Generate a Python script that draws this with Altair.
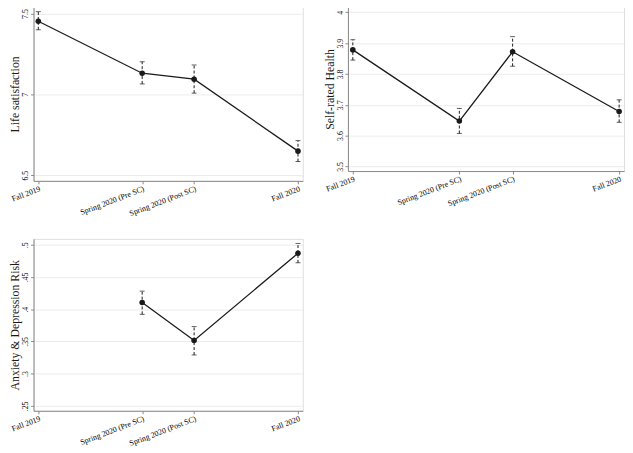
import altair as alt
import pandas as pd

periods = ["Fall 2019", "Spring 2020 (Pre SC)", "Spring 2020 (Post SC)", "Fall 2020"]
period_pos = [0.0, 4.8, 7.2, 12.0]

life_mean = [7.453, 7.131, 7.094, 6.649]
life_lo = [7.400, 7.065, 7.008, 6.585]
life_hi = [7.512, 7.202, 7.182, 6.714]

health_mean = [3.878, 3.647, 3.872, 3.678]
health_lo = [3.845, 3.607, 3.825, 3.643]
health_hi = [3.911, 3.688, 3.921, 3.716]

anx_mean = [None, 0.4105, 0.3515, 0.4867]
anx_lo = [None, 0.392, 0.329, 0.472]
anx_hi = [None, 0.428, 0.373, 0.502]

life_ticks = [6.5, 7.0, 7.5]
health_ticks = [3.5, 3.6, 3.7, 3.8, 3.9, 4.0]
anx_ticks = [0.25, 0.3, 0.35, 0.4, 0.45, 0.5]

FONT = "Liberation Serif"
FRAME = "#8c8c8c"
INK = "#1a1a1a"

label_expr = " : ".join(
    f"datum.value == {p} ? '{l}'" for p, l in zip(period_pos, periods)
) + " : ''"


def panel(mean, lo, hi, title, ydomain, yticks, w, h):
    df = pd.DataFrame({"pos": period_pos, "mean": mean, "lo": lo, "hi": hi}).dropna()
    xscale = alt.Scale(domain=[-0.22, 12.22], nice=False, zero=False)
    xaxis = alt.Axis(
        values=period_pos, labelExpr=label_expr, labelAngle=339,
        labelAlign="right", labelBaseline="top", labelFontSize=8,
        labelPadding=1, tickSize=3, grid=False, title=None,
        labelFlush=False, labelOverlap=False, labelFont=FONT,
    )
    yscale = alt.Scale(domain=ydomain, nice=False, zero=False)
    yaxis = alt.Axis(
        values=yticks, format="~g",
        labelExpr="replace(datum.label, '0.', '.')",
        labelAngle=270, labelAlign="center", labelBaseline="bottom",
        labelFontSize=8, labelPadding=1, tickSize=3, labelFont=FONT,
        grid=True, gridColor="#ececec", gridWidth=1,
        title=title, titleFont=FONT, titleFontSize=12, titleFontWeight="normal",
        titleColor=INK, titlePadding=0, labelFlush=False, labelOverlap=False,
    )
    x = alt.X("pos:Q", scale=xscale, axis=xaxis)
    base = alt.Chart(df)
    rule = base.mark_rule(color=INK, strokeDash=[3, 2], strokeWidth=1).encode(
        x=x, y=alt.Y("lo:Q", scale=yscale, axis=yaxis), y2="hi:Q"
    )
    cap_lo = base.mark_tick(orient="horizontal", size=5, thickness=1, color=INK).encode(
        x=x, y=alt.Y("lo:Q", scale=yscale, axis=yaxis)
    )
    cap_hi = base.mark_tick(orient="horizontal", size=5, thickness=1, color=INK).encode(
        x=x, y=alt.Y("hi:Q", scale=yscale, axis=yaxis)
    )
    line = base.mark_line(color=INK, strokeWidth=1.3).encode(
        x=x, y=alt.Y("mean:Q", scale=yscale, axis=yaxis)
    )
    pts = base.mark_circle(color=INK, size=32, opacity=1).encode(
        x=x, y=alt.Y("mean:Q", scale=yscale, axis=yaxis)
    )
    return alt.layer(rule, cap_lo, cap_hi, line, pts).properties(width=w, height=h)


p1 = panel(life_mean, life_lo, life_hi, "Life satisfaction",
           [6.465, 7.541], life_ticks, 274, 177)
p2 = panel(health_mean, health_lo, health_hi, "Self-rated Health",
           [3.4848, 4.0173], health_ticks, 281, 167)
p3 = panel(anx_mean, anx_lo, anx_hi, "Anxiety & Depression Risk",
           [0.2424, 0.5091], anx_ticks, 274, 175)

top = alt.hconcat(p1, p2, spacing=19)
chart = alt.vconcat(top, p3, spacing=20).properties(
    padding={"left": 0, "top": -6, "right": 0, "bottom": 0}
).configure_view(
    stroke=FRAME, strokeWidth=1
).configure_axis(
    domainColor=FRAME, tickColor=FRAME, labelColor=INK
).configure(background="white")

chart.save("out.html", embed_options={"renderer": "svg", "actions": False})
